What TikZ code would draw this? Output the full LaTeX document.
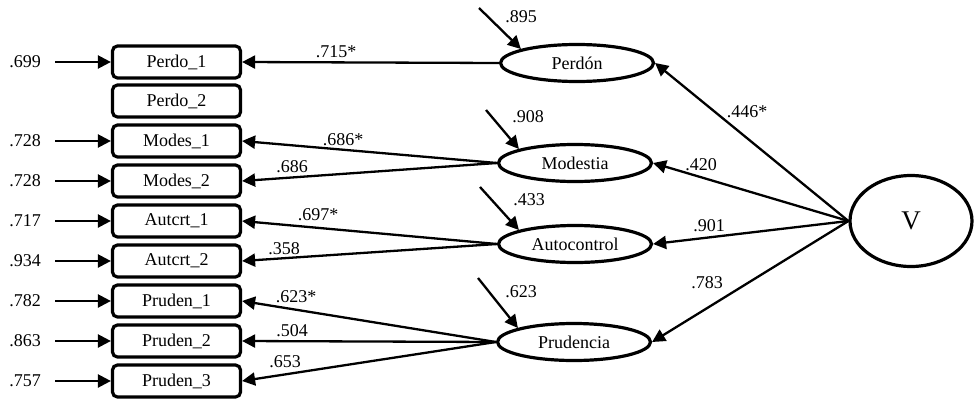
\documentclass[tikz,border=0pt]{standalone}
\usepackage{fontspec}
\setmainfont{Liberation Serif}
\usetikzlibrary{arrows.meta,shapes.geometric}
\begin{document}
\begin{tikzpicture}[x=1pt,y=-1pt,
  txt/.style={font=\fontsize{18}{20}\selectfont},
  obs/.style={txt,draw,line width=3.2pt,rounded corners=5pt,minimum width=128pt,minimum height=32pt,inner sep=0pt},
  lat/.style={txt,draw,ellipse,line width=3.2pt,minimum width=153pt,minimum height=37pt,inner sep=0pt},
  arr/.style={line width=2.3pt,-{Triangle[length=13pt,width=13pt]}},
  lbl/.style={txt,inner sep=0pt}]
\useasboundingbox (0,0) rectangle (974,399);
% observed
\node[obs] (p1) at (176.5,62) {Perdo\_1};
\node[obs] (p2) at (176.5,101) {Perdo\_2};
\node[obs] (m1) at (176.5,141) {Modes\_1};
\node[obs] (m2) at (176.5,181) {Modes\_2};
\node[obs] (a1) at (176.5,221) {Autcrt\_1};
\node[obs] (a2) at (176.5,261) {Autcrt\_2};
\node[obs] (r1) at (176.5,301) {Pruden\_1};
\node[obs] (r2) at (176.5,341) {Pruden\_2};
\node[obs] (r3) at (176.5,381) {Pruden\_3};
% latent
\node[lat] (per) at (577,63) {Perdón};
\node[lat] (mod) at (575,163) {Modestia};
\node[lat] (aut) at (575,244) {Autocontrol};
\node[lat] (pru) at (574,342) {Prudencia};
\node[draw,ellipse,line width=3.2pt,minimum width=122pt,minimum height=91pt,inner sep=0pt,font=\fontsize{27}{30}\selectfont] (v) at (911,221) {V};
% error terms observed
\foreach \n/\y/\t in {p1/62/.699,m1/141/.728,m2/181/.728,a1/221/.717,a2/261/.934,r1/301/.782,r2/341/.863,r3/381/.757}{
  \coordinate (e\n) at (55,\y);
  \node[lbl] (l\n) at (25,\y) {\t};
  \draw[arr] (e\n) -- (\n.west);
}
% error terms latent
\coordinate (eper) at (479,8);
\coordinate (emod) at (486,110);
\coordinate (eaut) at (480,187);
\coordinate (epru) at (478,278);
\draw[arr] (eper) -- (per.166);
\draw[arr] (emod) -- (mod.166);
\draw[arr] (eaut) -- (aut.166);
\draw[arr] (epru) -- (pru.166);
\node[lbl] (leper) at (521,17) {.895};
\node[lbl] (lemod) at (528,117) {.908};
\node[lbl] (leaut) at (529,200) {.433};
\node[lbl] (lepru) at (521,292) {.623};
% loadings
\draw[arr] (per.west) -- (p1.east);
\draw[arr] (mod.west) -- (m1.east);
\draw[arr] (mod.west) -- (m2.east);
\draw[arr] (aut.west) -- (a1.east);
\draw[arr] (aut.west) -- (a2.east);
\draw[arr] (pru.west) -- (r1.east);
\draw[arr] (pru.west) -- (r2.east);
\draw[arr] (pru.west) -- (r3.east);
\node[lbl] (lp1) at (336,52) {.715*};
\node[lbl] (lm1) at (343,140) {.686*};
\node[lbl] (lm2) at (292,167) {.686};
\node[lbl] (la1) at (318,215) {.697*};
\node[lbl] (la2) at (284,249) {.358};
\node[lbl] (lr1) at (296,297) {.623*};
\node[lbl] (lr2) at (292,331) {.504};
\node[lbl] (lr3) at (285,362) {.653};
% second order
\draw[arr] (v.west) -- (per.east);
\draw[arr] (v.west) -- (mod.east);
\draw[arr] (v.west) -- (aut.east);
\draw[arr] (v.west) -- (pru.east);
\node[lbl] (lvper) at (747,112) {.446*};
\node[lbl] (lvmod) at (701,165) {.420};
\node[lbl] (lvaut) at (709,226) {.901};
\node[lbl] (lvpru) at (707,283) {.783};
\end{tikzpicture}
\end{document}
